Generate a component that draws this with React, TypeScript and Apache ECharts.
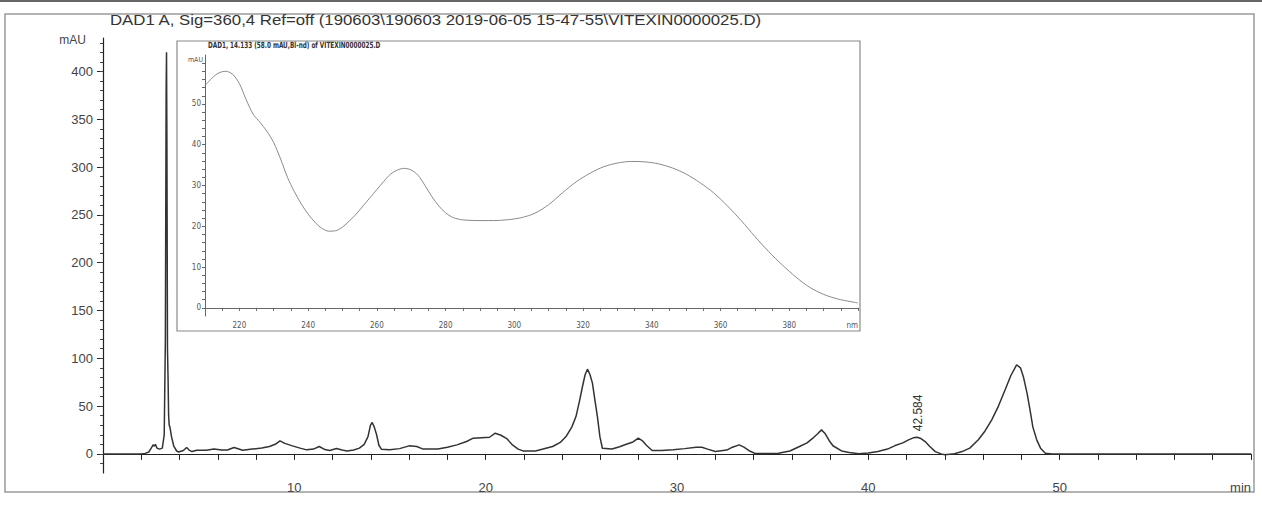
import React, { useEffect, useRef } from "react";
import * as echarts from "echarts";

// ---- main chromatogram (DAD1 A, 360 nm) ----
const chromTime: number[] = [
  0, 2.0, 2.2, 2.4, 2.55, 2.62, 2.68, 2.74, 2.82, 2.95, 3.1, 3.2, 3.26, 3.3, 3.32, 3.34, 3.37, 3.4, 3.43, 3.46,
  3.5, 3.58, 3.7, 3.85, 3.95, 4.2, 4.37, 4.5, 4.65, 4.9, 5.4, 5.8, 6.2, 6.5, 6.85, 7.3, 7.8, 8.3, 8.7, 9.0,
  9.25, 9.5, 9.9, 10.3, 10.65, 11.0, 11.3, 11.6, 11.85, 12.2, 12.5, 12.75, 13.1, 13.4, 13.65, 13.85, 13.98, 14.07, 14.18, 14.3,
  14.42, 14.55, 14.98, 15.5, 16.0, 16.4, 16.7, 17.5, 18.0, 18.5, 19.0, 19.35, 20.2, 20.5, 20.8, 21.1, 21.4, 21.7, 21.95, 22.6,
  23.0, 23.5, 23.9, 24.2, 24.5, 24.72, 24.9, 25.06, 25.2, 25.32, 25.45, 25.58, 25.72, 25.84, 25.97, 26.1, 26.6, 27.0, 27.35, 27.7,
  27.98, 28.2, 28.4, 28.7, 29.2, 29.8, 30.4, 31.0, 31.3, 31.6, 32.0, 32.6, 32.9, 33.25, 33.5, 33.8, 34.1, 35.3, 35.9, 36.4,
  36.8, 37.1, 37.35, 37.55, 37.75, 37.95, 38.15, 38.6, 39.0, 39.5, 40.0, 40.5, 41.0, 41.4, 41.8, 42.1, 42.35, 42.55, 42.75, 42.97,
  43.2, 43.5, 43.8, 44.0, 44.5, 44.9, 45.3, 45.75, 46.1, 46.45, 46.8, 47.15, 47.45, 47.75, 47.95, 48.1, 48.3, 48.45, 48.6, 48.8,
  49.0, 49.25, 49.6, 52, 55, 60,
];
const chromValue: number[] = [
  0, 0, 0.5, 2, 7, 9.5, 8, 10, 6, 5, 6, 20, 120, 380, 420, 330, 110, 80, 40, 30,
  28, 18, 8, 3, 2, 3.5, 6.6, 4, 2.4, 3.8, 3.8, 5.2, 4, 4, 6.6, 3.8, 5, 6.2, 7.7, 10,
  13.6, 11, 8.4, 6, 4.2, 5, 7.7, 4.5, 3.5, 5.6, 4, 3.1, 4, 6, 10, 18, 30, 32.8, 28, 20,
  9, 4.9, 4.2, 5.5, 8.4, 7.7, 5.2, 5.2, 7, 9.4, 13, 16.4, 17.4, 21.6, 19.5, 16, 9.4, 5, 3.1, 3.1,
  5, 7.7, 12, 18.1, 28, 39, 55, 70.5, 83, 88.6, 83, 74, 55, 39, 18, 5.9, 5.2, 7.5, 10.1, 12.5,
  16.4, 13.5, 9, 3.5, 3.5, 4.2, 5.5, 7, 7, 5, 2.4, 4, 7, 9.4, 7, 3, 0.3, 0.7, 3, 7.7,
  11.5, 16.4, 21, 25.1, 21, 14, 8.5, 3.1, 1.5, 0.2, 0.8, 2.4, 5, 8.7, 11.5, 14.7, 16.8, 17.4, 16, 12.9,
  8, 2.4, 0, -1, 0.2, 2.4, 6, 14.7, 24, 35.6, 50, 67, 82, 93.2, 90, 81, 63, 46, 28, 14.7,
  6, 0.7, 0, 0, 0, 0,
];
const mainTitle = "DAD1 A, Sig=360,4 Ref=off (190603\\190603 2019-06-05 15-47-55\\VITEXIN0000025.D)";
const mainYLabels: number[] = [0, 50, 100, 150, 200, 250, 300, 350, 400];
const mainYMinor: number[] = [-10, 0, 10, 20, 30, 40, 50, 60, 70, 80, 90, 100, 110, 120, 130, 140, 150, 160, 170, 180, 190, 200, 210, 220, 230, 240, 250, 260, 270, 280, 290, 300, 310, 320, 330, 340, 350, 360, 370, 380, 390, 400, 410, 420, 430];
const peakLabelTime = 42.584;
const peakLabelValue = 17.4;

// ---- inset UV spectrum at 14.133 min ----
const insetTitle = "DAD1, 14.133 (58.0 mAU,Bl-nd) of VITEXIN0000025.D";
const specNm: number[] = [
  210, 212, 214, 216, 218, 220, 222, 224, 226, 228, 230, 232, 234, 236, 238, 240, 242, 244, 246, 248,
  250, 252, 254, 256, 258, 260, 262, 264, 266, 268, 270, 272, 274, 276, 278, 280, 282, 284, 286, 290,
  294, 298, 302, 306, 310, 314, 318, 322, 326, 330, 334, 338, 342, 346, 350, 354, 358, 362, 366, 370,
  374, 378, 382, 386, 390, 394, 398, 400,
];
const specAbs: number[] = [
  54.5, 56.3, 57.6, 58.0, 57.3, 55.0, 51.0, 47.5, 45.5, 43.3, 40.5, 36.5, 32, 28.5, 25.5, 23, 21, 19.5, 18.8, 18.9,
  19.8, 21.3, 23, 25, 27, 29, 31, 32.8, 33.8, 34.2, 33.8, 32.5, 30.0, 27.3, 25.0, 23.3, 22.2, 21.7, 21.5, 21.4,
  21.4, 21.6, 22.1, 23.2, 25.3, 28.2, 30.9, 33.0, 34.6, 35.5, 35.9, 35.8, 35.3, 34.3, 32.8, 30.7, 28.2, 25.0, 21.4, 17.5,
  13.8, 10.5, 7.5, 5.0, 3.3, 2.2, 1.5, 1.2,
];
const insetYLabels: number[] = [0, 10, 20, 30, 40, 50];
const insetYTicks: number[] = [0, 2, 4, 6, 8, 10, 12, 14, 16, 18, 20, 22, 24, 26, 28, 30, 32, 34, 36, 38, 40, 42, 44, 46, 48, 50, 52, 54, 56, 58, 60];

const FONT = "Liberation Sans, Arial, sans-serif";
const NARROW = "DejaVu Sans Condensed, Liberation Sans, sans-serif";

export default function App() {
  const ref = useRef<HTMLDivElement>(null);
  useEffect(() => {
    if (!ref.current) return;
    const chart = echarts.init(ref.current, null, { renderer: "svg" });
    const chromData = chromTime.map((t, i) => [t, chromValue[i]]);
    const specData = specNm.map((n, i) => [n, specAbs[i]]);
    chart.setOption({
      animation: false,
      backgroundColor: "#ffffff",
      textStyle: { fontFamily: FONT },
      grid: [
        { left: 103, right: 11, top: 38, bottom: 32 },
        { left: 205, top: 55, width: 653, height: 261 },
      ],
      xAxis: [
        {
          type: "value",
          gridIndex: 0,
          min: 0,
          max: 60,
          interval: 2,
          splitLine: { show: false },
          axisLine: { lineStyle: { color: "#222", width: 1.2 } },
          axisTick: { show: true, length: 6, lineStyle: { color: "#222" } },
          axisLabel: {
            interval: 0,
            margin: 8,
            color: "#444",
            fontSize: 13,
            fontFamily: FONT,
            alignMaxLabel: "right",
            showMinLabel: true,
            showMaxLabel: true,
            formatter: (v: number) => (v === 60 ? "min" : v > 0 && v % 10 === 0 ? String(v) : ""),
          },
        },
        {
          type: "value",
          gridIndex: 1,
          min: 210,
          max: 400,
          interval: 5,
          splitLine: { show: false },
          axisLine: { lineStyle: { color: "#666", width: 1 } },
          axisTick: { show: true, length: 3, lineStyle: { color: "#666" } },
          axisLabel: {
            interval: 0,
            margin: 5,
            color: "#555",
            fontSize: 8,
            fontFamily: NARROW,
            alignMaxLabel: "right",
            formatter: (v: number) =>
              v === 400 ? "nm" : v >= 220 && v <= 380 && v % 20 === 0 ? String(v) : "",
          },
        },
      ],
      yAxis: [
        {
          type: "value",
          gridIndex: 0,
          min: -20,
          max: 435,
          splitLine: { show: false },
          axisLine: { show: true, lineStyle: { color: "#222", width: 1.2 } },
          axisTick: { show: true, length: 6, customValues: mainYLabels, lineStyle: { color: "#222" } },
          axisLabel: { customValues: mainYLabels, color: "#444", fontSize: 13, margin: 10, fontFamily: FONT },
        },
        {
          type: "value",
          gridIndex: 0,
          min: -20,
          max: 435,
          position: "left",
          splitLine: { show: false },
          axisLine: { show: false },
          axisTick: { show: true, length: 3, customValues: mainYMinor, lineStyle: { color: "#444" } },
          axisLabel: { show: false },
        },
        {
          type: "value",
          gridIndex: 1,
          min: -2,
          max: 62,
          splitLine: { show: false },
          axisLine: { show: true, lineStyle: { color: "#666", width: 1 } },
          axisTick: { show: true, length: 3, customValues: insetYTicks, lineStyle: { color: "#666" } },
          axisLabel: {
            customValues: insetYLabels,
            color: "#555",
            fontSize: 8,
            margin: 4,
            fontFamily: NARROW,
          },
        },
      ],
      series: [
        {
          type: "line",
          xAxisIndex: 0,
          yAxisIndex: 0,
          data: chromData,
          showSymbol: false,
          symbol: "none",
          lineStyle: { color: "#333", width: 1.5 },
          markPoint: {
            symbol: "circle",
            symbolSize: 0,
            data: [
              {
                coord: [peakLabelTime, peakLabelValue],
                label: {
                  show: true,
                  formatter: String(peakLabelTime),
                  rotate: 90,
                  position: "top",
                  distance: 6,
                  align: "left",
                  verticalAlign: "middle",
                  color: "#333",
                  fontSize: 12,
                  fontFamily: FONT,
                },
              },
            ],
          },
          z: 3,
        },
        {
          type: "line",
          xAxisIndex: 1,
          yAxisIndex: 2,
          data: specData,
          showSymbol: false,
          symbol: "none",
          smooth: 0.3,
          lineStyle: { color: "#8a8a8a", width: 1 },
          z: 5,
        },
      ],
      graphic: [
        { type: "rect", shape: { x: 0, y: 0, width: 1262, height: 2 }, style: { fill: "#666" }, z: 0, silent: true },
        {
          type: "rect",
          shape: { x: 5, y: 14, width: 1249, height: 478 },
          style: { fill: "none", stroke: "#9a9a9a", lineWidth: 1.5 },
          z: 0,
          silent: true,
        },
        {
          type: "rect",
          shape: { x: 177, y: 41, width: 683, height: 290 },
          style: { fill: "none", stroke: "#8a8a8a", lineWidth: 1.2 },
          z: 2,
          silent: true,
        },
        {
          type: "text",
          x: 110,
          y: 13,
          scaleX: 1.2,
          style: { text: mainTitle, fill: "#333", fontSize: 14, fontFamily: FONT },
          z: 10,
        },
        {
          type: "text",
          x: 86,
          y: 34,
          style: { text: "mAU", fill: "#444", fontSize: 12, fontFamily: FONT, align: "right" },
          z: 10,
        },
        {
          type: "text",
          x: 208,
          y: 41,
          scaleX: 0.75,
          style: { text: insetTitle, fill: "#333", fontSize: 8.5, fontWeight: "bold", fontFamily: NARROW },
          z: 10,
        },
        {
          type: "text",
          x: 203,
          y: 56,
          style: { text: "mAU", fill: "#555", fontSize: 7, fontFamily: NARROW, align: "right" },
          z: 10,
        },
      ],
    });
    return () => chart.dispose();
  }, []);
  return (
    <div
      ref={ref}
      style={{ position: "fixed", left: 0, top: 0, width: 1262, height: 505, background: "#fff" }}
    />
  );
}
